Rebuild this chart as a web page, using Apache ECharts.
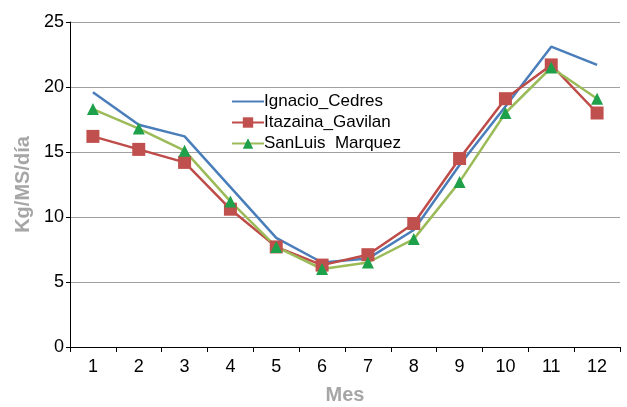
<!DOCTYPE html>
<html><head><meta charset="utf-8">
<script src="https://cdn.jsdelivr.net/npm/echarts@6/dist/echarts.min.js"></script>
<style>html,body{margin:0;padding:0;background:#fff}#c{width:627px;height:407px}</style>
</head><body><div id="c"></div>
<script>
var months = ['1','2','3','4','5','6','7','8','9','10','11','12'];
var ignacio = [19.6, 17.1, 16.2, 12.3, 8.4, 6.5, 6.8, 9.0, 14.0, 18.5, 23.1, 21.7];
var itazaina = [16.2, 15.2, 14.2, 10.6, 7.7, 6.3, 7.1, 9.5, 14.5, 19.1, 21.7, 18.0];
var sanluis = [18.3, 16.8, 15.1, 11.2, 7.7, 6.0, 6.5, 8.3, 12.7, 18.0, 21.5, 19.1];
var yTicks = [0, 5, 10, 15, 20, 25];

var chart = echarts.init(document.getElementById('c'));
var font = 'Liberation Sans, Arial, sans-serif';
chart.setOption({
  animation: false,
  textStyle: {fontFamily: font},
  grid: {left: 70, right: 7, top: 22, bottom: 60, containLabel: false, outerBoundsMode: 'none'},
  legend: {
    orient: 'vertical', left: 226, top: 88, itemGap: 4, itemWidth: 32, itemHeight: 13,
    textStyle: {fontSize: 17, color: '#000', fontFamily: font, padding: [0,0,0,-5]},
    data: [
      {name: 'Ignacio_Cedres', itemStyle: {opacity: 0}},
      'Itazaina_Gavilan', 'SanLuis  Marquez']
  },
  xAxis: {
    type: 'category', data: months, boundaryGap: true,
    name: 'Mes', nameLocation: 'middle', nameGap: 38,
    nameTextStyle: {fontSize: 20, fontWeight: 'bold', color: '#a6a6a6'},
    axisLine: {lineStyle: {color: '#000', width: 1}},
    axisTick: {show: true, length: 5, lineStyle: {color: '#000'}},
    axisLabel: {fontSize: 18, color: '#000', margin: 11},
    splitLine: {show: false}
  },
  yAxis: {
    type: 'value', min: yTicks[0], max: yTicks[yTicks.length-1], interval: 5,
    name: 'Kg/MS/día', nameLocation: 'middle', nameGap: 37,
    nameTextStyle: {fontSize: 20, fontWeight: 'bold', color: '#a6a6a6'},
    axisLine: {show: true, lineStyle: {color: '#000', width: 1}},
    axisTick: {show: true, length: 4, lineStyle: {color: '#000'}},
    axisLabel: {fontSize: 18, color: '#000', margin: 6},
    splitLine: {show: true, lineStyle: {color: '#a0a0a0', width: 1}}
  },
  series: [
    {name: 'Ignacio_Cedres', type: 'line', data: ignacio, symbol: 'none',
     lineStyle: {color: '#4a7ebb', width: 2.5}, itemStyle: {color: '#4a7ebb'}},
    {name: 'Itazaina_Gavilan', type: 'line', data: itazaina, symbol: 'rect', symbolSize: 13,
     lineStyle: {color: '#be4b48', width: 2.5}, itemStyle: {color: '#c0504d'}},
    {name: 'SanLuis  Marquez', type: 'line', data: sanluis, symbol: 'triangle', symbolSize: 12,
     lineStyle: {color: '#9bbb59', width: 2.5}, itemStyle: {color: '#1fa04a'}}
  ]
});
</script></body></html>
